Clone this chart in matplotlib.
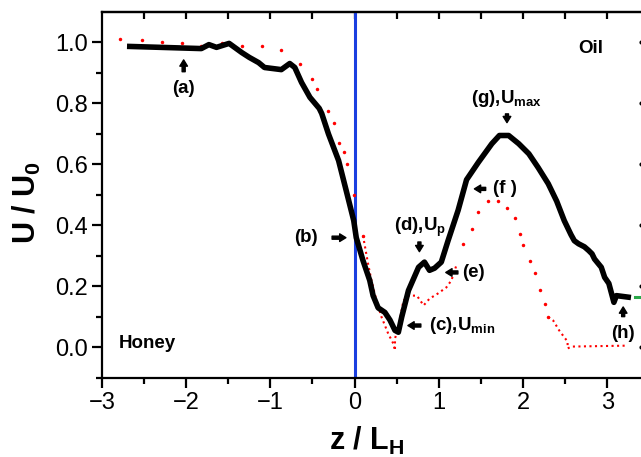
import matplotlib
matplotlib.use("Agg")
import matplotlib.pyplot as plt

plt.rcParams['font.family'] = ['Liberation Sans', 'DejaVu Sans']
plt.rcParams['mathtext.fontset'] = 'custom'
plt.rcParams['mathtext.rm'] = 'Liberation Sans:bold'
plt.rcParams['mathtext.bf'] = 'Liberation Sans:bold'
plt.rcParams['mathtext.default'] = 'bf'

# black profile (solid)
bx = [-2.67, -1.82, -1.73, -1.64, -1.49, -1.34, -1.25, -1.14, -1.07, -0.87, -0.77, -0.71,
      -0.63, -0.53, -0.42, -0.39, -0.31, -0.19, -0.10, -0.01, 0.02, 0.10, 0.18, 0.22, 0.28,
      0.36, 0.42, 0.48, 0.52, 0.56, 0.64, 0.76, 0.83, 0.89, 0.95, 1.03, 1.11, 1.23, 1.33,
      1.47, 1.63, 1.72, 1.83, 1.95, 2.07, 2.18, 2.30, 2.40, 2.49, 2.57, 2.61, 2.66, 2.73, 2.78,
      2.82, 2.85, 2.93, 2.97, 3.02, 3.08, 3.11, 3.25]
by = [0.987, 0.980, 0.993, 0.984, 0.997, 0.967, 0.951, 0.934, 0.918, 0.911, 0.931, 0.918,
      0.869, 0.820, 0.784, 0.767, 0.700, 0.613, 0.515, 0.416, 0.360, 0.285, 0.220, 0.170, 0.130,
      0.115, 0.090, 0.056, 0.050, 0.100, 0.187, 0.263, 0.280, 0.253, 0.260, 0.280, 0.350, 0.450, 0.550,
      0.607, 0.668, 0.695, 0.695, 0.668, 0.635, 0.590, 0.537, 0.480, 0.416, 0.370, 0.350, 0.340, 0.330,
      0.318, 0.307, 0.290, 0.263, 0.230, 0.210, 0.148, 0.170, 0.165]

# red profile, sparse dots
rx_top = [-2.79, -2.53, -2.29, -2.05, -1.82, -1.58, -1.34, -1.10, -0.87, -0.65, -0.51, -0.45,
          -0.32, -0.25, -0.18, -0.13, -0.095, -0.01, 0.10]
ry_top = [1.013, 1.007, 1.000, 0.997, 0.990, 0.997, 0.990, 0.987, 0.974, 0.930, 0.880, 0.847,
          0.774, 0.736, 0.672, 0.640, 0.603, 0.500, 0.367]
# red profile, dense part (valley)
rx_mid = [0.10, 0.16, 0.20, 0.26, 0.32, 0.40, 0.46, 0.48, 0.48, 0.52, 0.58, 0.65, 0.74, 0.82,
          0.89, 0.99, 1.09, 1.15, 1.21]
ry_mid = [0.367, 0.275, 0.220, 0.154, 0.100, 0.045, 0.013, -0.010, 0.030, 0.062, 0.154, 0.170,
          0.170, 0.138, 0.160, 0.177, 0.197, 0.220, 0.270]
# red hump, sparse dots
rx_hump = [1.29, 1.39, 1.47, 1.59, 1.70, 1.81, 1.90, 1.97, 2.00, 2.08, 2.14, 2.20, 2.26, 2.30]
ry_hump = [0.340, 0.390, 0.443, 0.480, 0.480, 0.456, 0.423, 0.373, 0.337, 0.285, 0.243, 0.187,
           0.144, 0.100]
# red tail, dense
rx_tail = [2.30, 2.36, 2.43, 2.50, 2.53, 2.53, 2.58, 3.23]
ry_tail = [0.100, 0.088, 0.056, 0.030, 0.020, -0.003, 0.003, 0.006]

green_x = [3.33, 3.45]
green_y = [0.164, 0.164]
edge_y = [0.0, 0.2, 0.4, 0.6, 0.8, 1.0]

fig = plt.figure(figsize=(6.41, 4.57), dpi=100)
ax = fig.add_axes([0.1591, 0.1729, 0.8538, 0.8009])
ax.set_xlim(-3, 3.5)
ax.set_ylim(-0.1, 1.1)

ax.axvline(0, color='#1a3fe0', lw=2.2, zorder=2)
ax.plot(rx_top, ry_top, ls='none', marker='o', ms=2.5, color='red', mec='none', zorder=3)
ax.plot(rx_mid, ry_mid, ls=':', lw=1.5, color='red', zorder=3)
ax.plot(rx_hump, ry_hump, ls='none', marker='o', ms=2.5, color='red', mec='none', zorder=3)
ax.plot(rx_tail, ry_tail, ls=':', lw=1.5, color='red', zorder=3)
ax.plot(bx, by, color='black', lw=4.0, solid_joinstyle='round', zorder=4)
ax.plot(green_x, green_y, color='#2aa84a', lw=2.2, clip_on=False)
ax.plot([3.40] * len(edge_y), edge_y, ls='none', marker='o', ms=2, color='black', clip_on=False)

for s in ['left', 'bottom', 'top']:
    ax.spines[s].set_linewidth(1.6)
ax.spines['right'].set_visible(False)

ax.set_xticks([-3, -2, -1, 0, 1, 2, 3])
ax.set_xticks([-2.5, -1.5, -0.5, 0.5, 1.5, 2.5], minor=True)
ax.set_yticks([0.0, 0.2, 0.4, 0.6, 0.8, 1.0])
ax.set_yticks([-0.1, 0.1, 0.3, 0.5, 0.7, 0.9], minor=True)
ax.set_yticklabels(['0.0', '0.2', '0.4', '0.6', '0.8', '1.0'])
ax.tick_params(which='major', direction='out', length=7, width=1.6, labelsize=17, pad=3)
ax.tick_params(which='minor', direction='out', length=4.5, width=1.6)

top = ax.secondary_xaxis('top')
top.set_xticks([-2.5, -2, -1.5, -1, -0.5, 0, 0.5, 1, 1.5, 2, 2.5, 3])
top.tick_params(direction='in', length=5, width=1.6, labeltop=False)
top.spines['top'].set_linewidth(1.6)

ax.set_xlabel('z / L$_\\mathbf{H}$', fontsize=22, fontweight='bold')
ax.set_ylabel('U / U$_\\mathbf{0}$', fontsize=22, fontweight='bold')
ax.xaxis.set_label_coords(0.483, -0.128)
ax.yaxis.set_label_coords(-0.108, 0.478)

akw = dict(fontsize=13.5, fontweight='bold', zorder=6)
arr = dict(arrowstyle='simple,head_width=0.55,head_length=0.45,tail_width=0.22', color='black')


def mark(txt, tx, ty, a0, a1, ha='center'):
    ax.text(tx, ty, txt, ha=ha, va='center', **akw)
    ax.annotate('', xy=a1, xytext=a0, arrowprops=arr, zorder=6)


mark('(a)', -2.03, 0.849, (-2.03, 0.895), (-2.03, 0.952))
mark('(b)', -0.58, 0.36, (-0.30, 0.36), (-0.07, 0.36))
mark('(c),U$_{\\mathbf{min}}$', 0.88, 0.072, (0.82, 0.072), (0.60, 0.072), ha='left')
mark('(d),U$_{\\mathbf{p}}$', 0.78, 0.393, (0.77, 0.355), (0.77, 0.305))
mark('(e)', 1.41, 0.246, (1.26, 0.246), (1.05, 0.246))
mark('(f )', 1.78, 0.52, (1.59, 0.52), (1.39, 0.52))
mark('(g),U$_{\\mathbf{max}}$', 1.80, 0.815, (1.81, 0.775), (1.81, 0.728))
mark('(h)', 3.19, 0.046, (3.19, 0.092), (3.19, 0.142))
ax.text(2.81, 0.98, 'Oil', ha='center', va='center', **akw)
ax.text(-2.80, 0.013, 'Honey', ha='left', va='center', **akw)

fig.savefig('out.png', dpi=100)
